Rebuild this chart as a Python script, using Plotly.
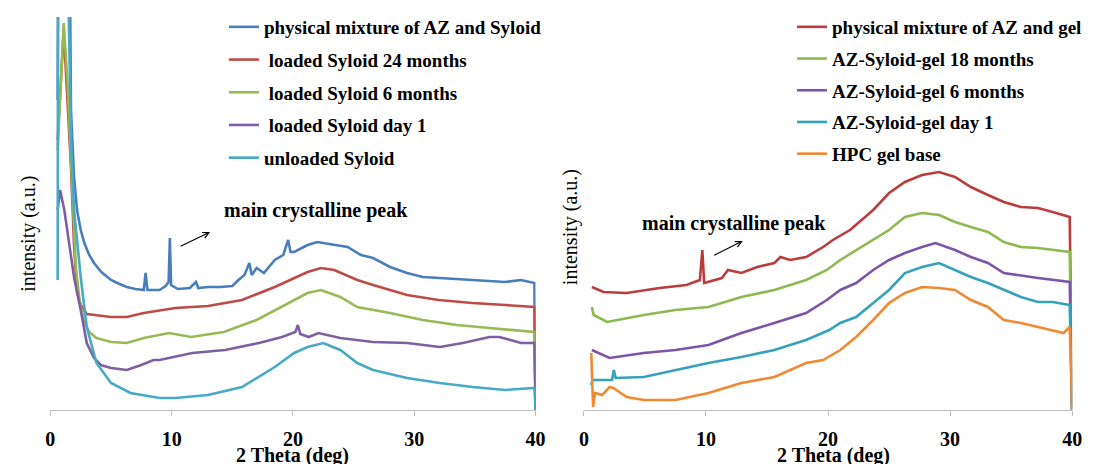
import plotly.graph_objects as go

# ---------------- data (left panel: Syloid) ----------------
x_phys_syl = [0.6, 0.7, 1.5, 1.7, 1.95, 2.2, 2.5, 2.8, 3.2, 3.6, 4.2, 5.0, 5.7, 6.3, 7.0, 7.7, 7.85, 8.0,
              9.0, 9.5, 9.75, 9.85, 9.95, 10.5, 11.5, 12.0, 12.2, 13.0, 14.0, 15.0, 15.5, 16.0, 16.4, 16.6,
              17.0, 17.6, 18.5, 19.2, 19.6, 19.8, 20.1, 21.2, 22.0, 23.4, 24.5, 25.6, 26.6, 28.0, 29.4,
              30.7, 32.0, 34.8, 37.5, 38.8, 39.9, 40.0]
y_phys_syl = [310, 600, 600, 300, 233, 200, 180, 167, 155, 147, 138, 130, 126, 123, 121, 120, 137, 120,
              120, 124, 128, 172, 125, 121, 122, 128, 122, 123, 123, 124, 130, 135, 147, 135,
              142, 137, 150, 155, 170, 158, 158, 165, 168, 165, 163, 155, 152, 143, 137,
              133, 132, 130, 128, 130, 127, 0]

x_syl_24m = [0.6, 1.1, 1.7, 1.95, 2.2, 2.5, 3.0, 3.6, 5.0, 6.3, 7.7, 10.3, 13.0, 15.8, 18.5, 21.2, 22.3,
             23.4, 25.3, 26.6, 29.4, 32.0, 34.8, 37.5, 39.9, 40.0]
y_syl_24m = [270, 380, 243, 165, 118, 105, 96, 95, 93, 93, 97, 102, 104, 110, 123, 138, 142,
             140, 130, 125, 115, 110, 107, 105, 103, 0]

x_syl_6m = [0.6, 1.1, 1.4, 1.7, 2.1, 2.4, 2.75, 3.2, 3.8, 5.0, 6.3, 7.7, 9.8, 11.6, 14.3, 17.0, 19.6,
            21.2, 22.3, 23.9, 25.3, 28.0, 30.7, 33.5, 36.2, 39.9, 40.0]
y_syl_6m = [260, 387, 330, 243, 143, 110, 90, 78, 72, 68, 67, 72, 77, 73, 78, 90, 107,
            117, 120, 113, 103, 97, 90, 85, 82, 78, 0]

x_syl_d1 = [0.6, 0.8, 1.15, 1.55, 1.95, 2.5, 3.0, 3.6, 4.15, 5.0, 6.3, 7.5, 8.5, 9.0, 11.7, 14.4, 17.2,
            19.1, 20.2, 20.4, 20.6, 21.3, 22.1, 23.9, 26.6, 29.4, 32.1, 34.0, 36.2, 37.0, 38.8, 39.9, 40.0]
y_syl_d1 = [200, 220, 200, 167, 133, 100, 67, 52, 45, 42, 40, 45, 50, 50, 57, 60, 67,
            73, 78, 85, 76, 73, 77, 72, 68, 67, 63, 67, 73, 73, 67, 67, 0]

x_syl_unl = [0.6, 0.65, 1.2, 1.71, 1.95, 2.5, 3.0, 3.8, 5.0, 6.6, 9.0, 10.3, 13.0, 15.8, 18.5, 20.1, 21.2,
             22.5, 23.9, 25.3, 26.6, 29.4, 32.1, 34.8, 37.5, 39.9, 40.0]
y_syl_unl = [130, 600, 600, 267, 200, 133, 83, 47, 27, 17, 12, 12, 15, 23, 43, 57, 63,
             67, 60, 47, 40, 32, 27, 23, 20, 22, 0]

# ---------------- data (right panel: gel) ----------------
x_phys_gel = [0.65, 1.6, 3.5, 6.2, 8.4, 9.5, 9.7, 9.85, 11.3, 11.8, 12.9, 14.2, 15.6, 16.1, 16.9, 18.2,
              19.6, 20.4, 21.8, 23.7, 25.0, 26.3, 27.7, 29.1, 30.4, 31.7, 33.1, 34.4, 35.8, 37.2, 38.4,
              39.8, 40.0]
y_phys_gel = [123, 118, 117, 122, 125, 130, 160, 127, 132, 140, 137, 143, 147, 153, 150, 153,
              163, 170, 180, 200, 217, 228, 235, 238, 233, 223, 215, 208, 203, 202, 198,
              193, 0]

x_gel_18m = [0.65, 0.8, 1.9, 4.9, 7.5, 10.2, 12.9, 15.6, 18.2, 19.9, 21.0, 22.3, 23.7, 25.0, 26.3, 27.7,
             29.1, 30.4, 31.7, 33.1, 34.4, 35.8, 37.2, 39.8, 40.0]
y_gel_18m = [103, 95, 88, 95, 100, 103, 113, 120, 130, 140, 150, 160, 170, 180, 193, 197,
             195, 188, 183, 178, 168, 163, 162, 158, 0]

x_gel_6m = [0.65, 2.1, 4.9, 7.5, 10.2, 12.9, 15.6, 18.2, 19.9, 21.0, 22.3, 23.7, 25.0, 26.3, 27.7, 28.8,
            30.4, 31.7, 33.1, 34.4, 37.2, 39.8, 40.0]
y_gel_6m = [60, 52, 57, 60, 65, 77, 87, 97, 110, 120, 127, 140, 150, 157, 163, 167,
            160, 153, 147, 137, 132, 128, 0]

x_gel_d1 = [0.6, 0.7, 1.8, 2.3, 2.45, 2.6, 4.9, 7.5, 10.2, 12.9, 15.6, 18.2, 20.1, 21.0, 22.3, 23.7,
            25.0, 26.3, 27.7, 29.1, 30.4, 31.7, 33.1, 34.4, 35.8, 37.2, 38.4, 39.8, 40.0]
y_gel_d1 = [25, 30, 30, 30, 40, 32, 33, 40, 47, 53, 60, 70, 80, 87, 93, 107,
            120, 137, 143, 147, 140, 133, 127, 120, 113, 108, 108, 105, 0]

x_hpc = [0.6, 0.75, 0.9, 1.5, 2.1, 2.4, 3.5, 4.9, 7.5, 10.2, 12.9, 15.6, 18.2, 19.6, 21.0, 22.3, 23.7,
         25.0, 26.3, 27.7, 29.1, 30.4, 31.7, 33.1, 34.4, 35.8, 37.2, 38.4, 39.3, 39.8, 40.0]
y_hpc = [57, 3, 17, 15, 23, 22, 13, 10, 10, 17, 27, 33, 47, 50, 60, 73, 90,
         107, 117, 123, 122, 120, 110, 103, 90, 87, 83, 80, 77, 83, 0]

left_names = ["physical mixture of AZ and Syloid", "\u00a0loaded Syloid 24 months",
              "\u00a0loaded Syloid 6 months", "\u00a0loaded Syloid day 1", "unloaded Syloid"]
right_names = ["physical mixture of AZ and gel", "AZ-Syloid-gel 18 months",
               "AZ-Syloid-gel 6 months", "AZ-Syloid-gel day 1", "HPC gel base"]
left_colors = ["#4A7EBB", "#BE4B48", "#98B954", "#7D60A0", "#46AAC5"]
right_colors = ["#BA3C3C", "#8DB94E", "#7D55A8", "#35A2BC", "#F08A32"]

left_series = [(x_phys_syl, y_phys_syl), (x_syl_24m, y_syl_24m), (x_syl_6m, y_syl_6m),
               (x_syl_d1, y_syl_d1), (x_syl_unl, y_syl_unl)]
right_series = [(x_phys_gel, y_phys_gel), (x_gel_18m, y_gel_18m), (x_gel_6m, y_gel_6m),
                (x_gel_d1, y_gel_d1), (x_hpc, y_hpc)]

tick_vals = [0, 10, 20, 30, 40]
tick_text = ["0", "10", "20", "30", "40"]

SERIF = "Liberation Serif, Times New Roman, serif"

fig = go.Figure()
for i, ((xs, ys), name, col) in enumerate(zip(left_series, left_names, left_colors)):
    fig.add_trace(go.Scatter(x=xs, y=ys, mode="lines", name=name, legend="legend",
                             legendgroup="L%d" % i, line=dict(color=col, width=2.6),
                             xaxis="x", yaxis="y"))
for i, ((xs, ys), name, col) in enumerate(zip(right_series, right_names, right_colors)):
    fig.add_trace(go.Scatter(x=xs, y=ys, mode="lines", name=name, legend="legend2",
                             legendgroup="R%d" % i, line=dict(color=col, width=2.6),
                             xaxis="x2", yaxis="y2"))

W, H = 1093, 464


def px(x):
    return x / W


def py(y):
    return 1 - y / H


xcommon = dict(range=[0, 40], tickvals=tick_vals, ticktext=tick_text, showline=True,
               linecolor="#bdbdbd", linewidth=1, ticks="outside", ticklen=5, tickcolor="#bdbdbd",
               showgrid=False, zeroline=False, ticklabelstandoff=6,
               tickfont=dict(family=SERIF, size=20, color="black", weight="bold"))
ycommon = dict(range=[0, 393], showline=False, showgrid=False, zeroline=False,
               showticklabels=False, ticks="", domain=[54 / H, 447 / H])

legend_font = dict(family=SERIF, size=19, color="black", weight="bold")

fig.update_layout(
    width=W, height=H, margin=dict(l=0, r=0, t=0, b=0),
    paper_bgcolor="white", plot_bgcolor="white",
    xaxis=dict(domain=[46 / W, 538 / W], anchor="y", **xcommon),
    yaxis=dict(anchor="x", **ycommon),
    xaxis2=dict(domain=[587 / W, 1082 / W], anchor="y2", **xcommon),
    yaxis2=dict(anchor="x2", **ycommon),
    legend=dict(x=px(222), y=py(8), xanchor="left", yanchor="top", bgcolor="rgba(0,0,0,0)",
                font=legend_font, tracegroupgap=5, itemwidth=30, traceorder="grouped"),
    legend2=dict(x=px(798), y=py(8), xanchor="left", yanchor="top", bgcolor="rgba(0,0,0,0)",
                 font=legend_font, tracegroupgap=4, itemwidth=30, traceorder="grouped"),
    showlegend=True,
)

ann_font = dict(family=SERIF, size=20, color="black", weight="bold")
common = dict(xref="paper", yref="paper", xanchor="center", yanchor="middle")
annotations = [
    dict(text="main crystalline peak", x=px(315), y=py(211), showarrow=False, font=ann_font, **common),
    dict(text="main crystalline peak", x=px(739), y=py(223), showarrow=False, font=ann_font, **common),
    dict(text="", x=px(208), y=py(232), xref="paper", yref="paper", showarrow=True,
         ax=-31, ay=15, arrowhead=5, arrowsize=1, arrowwidth=1.2, arrowcolor="black"),
    dict(text="", x=px(748), y=py(241), xref="paper", yref="paper", showarrow=True,
         ax=-30, ay=15, arrowhead=5, arrowsize=1, arrowwidth=1.2, arrowcolor="black"),
    dict(text="2 Theta (deg)", x=px(292), y=py(455), showarrow=False, font=ann_font, **common),
    dict(text="2 Theta (deg)", x=px(840), y=py(455), showarrow=False, font=ann_font, **common),
    dict(text="intensity (a.u.)", x=px(23), y=py(234), showarrow=False, textangle=-90,
         font=dict(family=SERIF, size=20, color="black"), **common),
    dict(text="intensity (a.u.)", x=px(573), y=py(227), showarrow=False, textangle=-90,
         font=dict(family=SERIF, size=20, color="black"), **common),
]
fig.update_layout(annotations=annotations)

fig.write_html("out.html")
